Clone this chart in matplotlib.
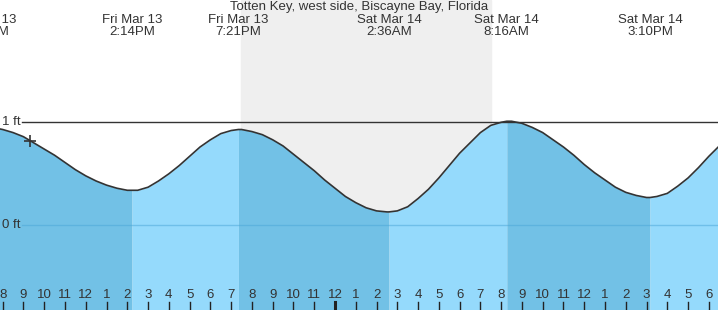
import matplotlib
matplotlib.use("Agg")
import matplotlib.pyplot as plt
import numpy as np

# hours counted from Fri Mar 13 00:00
x_start, x_end = 7.87, 42.44
y_low, y_high = -0.822, 2.187

# tide curve (hours, feet)
curve_hours = [7.5, 8.0, 8.5, 9.0, 9.5, 10.0, 10.5, 11.0, 11.5, 12.0, 12.5, 13.0,
               13.5, 14.0, 14.23, 14.5, 15.0, 15.5, 16.0, 16.5, 17.0, 17.5, 18.0,
               18.5, 19.0, 19.35, 19.5, 20.0, 20.5, 21.0, 21.5, 22.0, 22.5, 23.0,
               23.5, 24.0, 24.5, 25.0, 25.5, 26.0, 26.5, 26.6, 27.0, 27.5, 28.0,
               28.5, 29.0, 29.5, 30.0, 30.5, 31.0, 31.5, 32.0, 32.27, 32.5, 33.0,
               33.5, 34.0, 34.5, 35.0, 35.5, 36.0, 36.5, 37.0, 37.5, 38.0, 38.5,
               39.0, 39.17, 39.5, 40.0, 40.5, 41.0, 41.5, 42.0, 42.5]
curve_feet = [0.95, 0.93, 0.90, 0.86, 0.80, 0.74, 0.68, 0.61, 0.54, 0.48, 0.43, 0.39,
              0.36, 0.34, 0.34, 0.34, 0.37, 0.43, 0.50, 0.58, 0.67, 0.76, 0.83,
              0.89, 0.92, 0.93, 0.93, 0.91, 0.88, 0.83, 0.77, 0.69, 0.61, 0.53,
              0.44, 0.36, 0.28, 0.22, 0.17, 0.14, 0.13, 0.13, 0.14, 0.18, 0.26,
              0.35, 0.46, 0.58, 0.70, 0.80, 0.90, 0.97, 1.00, 1.01, 1.01, 0.99,
              0.95, 0.90, 0.83, 0.76, 0.68, 0.59, 0.51, 0.44, 0.37, 0.32, 0.29,
              0.27, 0.27, 0.28, 0.31, 0.38, 0.46, 0.56, 0.67, 0.77]

# high / low tide predictions
tide_hours = [7.22, 14.23, 19.35, 26.6, 32.27, 39.17]
tide_days = ["Fri Mar 13", "Fri Mar 13", "Fri Mar 13", "Sat Mar 14", "Sat Mar 14", "Sat Mar 14"]
tide_times = ["7:13AM", "2:14PM", "7:21PM", "2:36AM", "8:16AM", "3:10PM"]

sunset, sunrise = 19.47, 31.51
now_hour, now_feet = 9.31, 0.82

hour_ticks = list(range(8, 43))
hour_labels = [str((h - 1) % 12 + 1) for h in hour_ticks]

title = "Totten Key, west side, Biscayne Bay, Florida"

dark_fill = "#72C1E6"
light_fill = "#95DAFC"
text_col = "#333333"
plt.rcParams["font.family"] = ["Liberation Sans", "DejaVu Sans"]
fs = 9.5

fig = plt.figure(figsize=(7.18, 3.10), dpi=100)
ax = fig.add_axes([0, 0, 1, 1])
ax.set_facecolor("#EEF7FF")
ax.set_xlim(x_start, x_end)
ax.set_ylim(y_low, y_high)
ax.axis("off")

ax.axvspan(sunset, sunrise, color="#EFEFEF", zorder=0)

hrs = np.array(curve_hours)
ft = np.array(curve_feet)
# falling tide dark, rising tide light
bounds = [hrs[0]] + tide_hours[1:] + [hrs[-1]]
for i in range(len(bounds) - 1):
    m = (hrs >= bounds[i]) & (hrs <= bounds[i + 1])
    col = dark_fill if i % 2 == 0 else light_fill
    ax.fill_between(hrs[m], y_low, ft[m], color=col, lw=0, zorder=1)

ax.plot(hrs, ft, color="#333333", lw=1.2, zorder=3, solid_joinstyle="round")

ax.axhline(1, xmin=22 / 718, color="#333333", lw=1.0, zorder=2)
ax.axhline(0, xmin=22 / 718, color="#4AA6D8", lw=1.0, alpha=0.5, zorder=2)
ax.text(x_start + 2 / 20.77, 1, "1 ft", fontsize=fs, color=text_col, va="center", ha="left")
ax.text(x_start + 2 / 20.77, 0, "0 ft", fontsize=fs, color=text_col, va="center", ha="left")

ax.plot(now_hour, now_feet, marker="+", ms=9, mew=1.2, color="#333333", zorder=4)

tr = ax.get_xaxis_transform()
for h, lab in zip(hour_ticks, hour_labels):
    w = 2.2 if h == 24 else 1.0
    ax.plot([h, h], [0, 8 / 310], transform=tr, color="#222222", lw=w, zorder=4)
    ax.text(h, 1 - 295 / 310, lab, transform=tr, fontsize=fs, color=text_col,
            ha="center", va="center")

for h, d, t in zip(tide_hours, tide_days, tide_times):
    ax.text(h, 1 - 20 / 310, d, transform=tr, fontsize=fs, color=text_col, ha="center", va="center")
    ax.text(h, 1 - 32 / 310, t, transform=tr, fontsize=fs, color=text_col, ha="center", va="center")

ax.text(0.5, 1 - 7 / 310, title, transform=ax.transAxes, fontsize=fs, color=text_col,
        ha="center", va="center")

fig.savefig("out.png", dpi=100)
